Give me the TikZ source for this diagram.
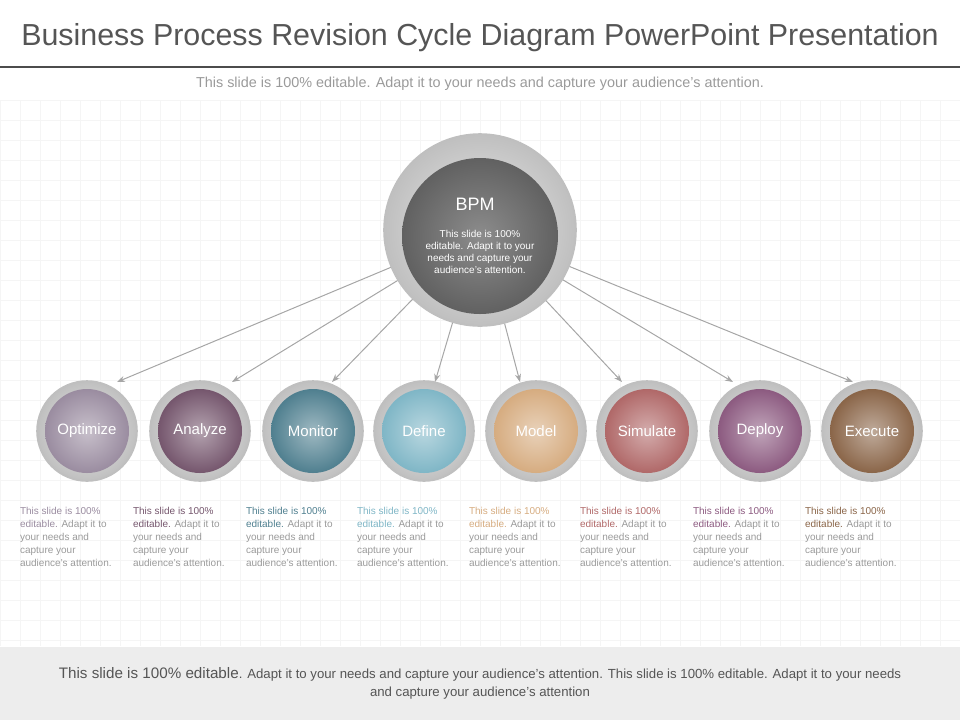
\documentclass[tikz,border=0pt]{standalone}
\usepackage{fontspec}
\setmainfont{Liberation Sans}
\usetikzlibrary{arrows.meta,positioning}
\definecolor{txtgray}{HTML}{555555}
\definecolor{lightgray}{HTML}{9A9A9A}
\definecolor{cOptimize}{HTML}{9A8CA0}
\definecolor{cAnalyze}{HTML}{75566D}
\definecolor{cMonitor}{HTML}{4F7F8F}
\definecolor{cDefine}{HTML}{7FB6C6}
\definecolor{cModel}{HTML}{D6AC80}
\definecolor{cSimulate}{HTML}{B06868}
\definecolor{cDeploy}{HTML}{8C5A80}
\definecolor{cExecute}{HTML}{8A6548}
\tikzset{
  ring/.style={circle, draw=black!25, line width=0.8pt, inner color=black!8, outer color=black!25, minimum size=#1, inner sep=0pt},
  step label/.style={font=\fontsize{7.5}{9}\selectfont, text=white},
  desc/.style={anchor=north west, align=left, font=\fontsize{5}{6.5}\selectfont, text=lightgray},
  link/.style={draw=black!35, line width=0.5pt, -{Stealth[length=4pt,width=3pt]}}
}
\begin{document}
\begin{tikzpicture}[x=0.5pt,y=-0.5pt]
\useasboundingbox (0,0) rectangle (960,720);
% grid background
\draw[black!4, line width=0.3pt, step=10pt] (0,100) grid (960,646);
% title
\node (title) at (480,38) {\fontsize{15.2}{18}\selectfont\color{txtgray}Business Process Revision Cycle Diagram PowerPoint Presentation};
\draw[black!70, line width=1pt] (0,67) -- (960,67);
\node (sub) at (480,84) {\fontsize{7.2}{8}\selectfont\color{lightgray}This slide is 100\% editable. Adapt it to your needs and capture your audience's attention.};
% center circle
\node[ring=96pt] (bpm) at (480,230) {};
\node[circle, inner color=black!45, outer color=black!62, minimum size=78pt, inner sep=0pt] (bpmcore) at (480,236) {};
\node[font=\fontsize{9}{10}\selectfont, text=white] (bpmlabel) at (475,204) {BPM};
\node[font=\fontsize{5}{6}\selectfont, text=white, align=center] (bpmtext) at (480,252) {This slide is 100\%\\editable. Adapt it to your\\needs and capture your\\audience's attention.};
% steps
\foreach \name/\x/\ex in {Optimize/87/117, Analyze/200/232, Monitor/313/332, Define/424/435, Model/536/520, Simulate/647/622, Deploy/760/733, Execute/872/853}{
  \node[ring=50pt] (r\name) at (\x,431) {};
  \node[circle, inner color=c\name!55!white, outer color=c\name, minimum size=42pt, inner sep=0pt] (c\name) at (\x,431) {};
  \node[step label] (l\name) at (\x,431) {\name};
  \coordinate (e\name) at (\ex,382);
  \draw[link] (bpm) -- (e\name);
  \node[desc] (d\name) at (\x-74,500) {{\color{c\name}This slide is 100\%}\\{\color{c\name}editable.} Adapt it to\\your needs and\\capture your\\audience's attention.};
}
% bottom band
\fill[black!7] (0,647) rectangle (960,720);
\node[align=center, text=txtgray, font=\fontsize{6.6}{9}\selectfont] (foot) at (480,683) {{\fontsize{7.6}{9}\selectfont This slide is 100\% editable}. Adapt it to your needs and capture your audience's attention. This slide is 100\% editable. Adapt it to your needs\\and capture your audience's attention};
\end{tikzpicture}
\end{document}
